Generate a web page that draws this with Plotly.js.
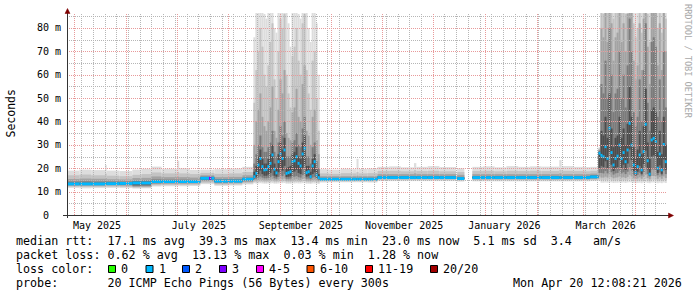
<!DOCTYPE html>
<html><head><meta charset="utf-8">
<script src="https://cdn.plot.ly/plotly-3.0.1.min.js"></script>
<style>html,body{margin:0;padding:0;background:#fff;}#chart{width:697px;height:297px;}</style>
</head><body><div id="chart"></div>
<script>
// ---------------- DATA ----------------
// time bins: start (days since 2025-04-26 00:00 UTC) and duration (days)
const start = [
  0.7, 8, 15, 23.3, 24.3, 32, 39.6, 45, 50.9, 57, 66.4, 67.6, 74, 80.2, 85.4, 86.8, 88.6, 97, 105.3,
  111.9,113.1,114.3,115.5,116.7,117.9,119.1,120.3,121.5,122.7,123.9,125.1,126.3,127.5,128.7,129.9,131.1,132.3,133.5,134.7,135.9,137.1,138.3,139.5,140.7,141.9,143.1,144.3,145.5,146.7,147.9,149.1,150.3,
  151.5,157,164,171,173.5,174.7,180,186,193,200,207.8,209.2,216,223,233.6,242.7,249,256,263,270,277,284,294.6,296,303,310,313,
  318,319.2,320.4,321.6,322.8,324,325.2,326.4,327.6,328.8,330,331.2,332.4,333.6,334.8,336,337.2,338.4,339.6,340.8,342,343.2,344.4,345.6,346.8,348,349.2,350.4,351.6,352.8,354,355.2,356.4,357.6
];
const dur = [
  7.3, 7, 8.3, 1, 7.7, 7.6, 5.4, 5.9, 6.1, 9.4, 1.2, 6.4, 6.2, 5.2, 1.4, 1.8, 8.4, 8.3, 6.6,
  1.2,1.2,1.2,1.2,1.2,1.2,1.2,1.2,1.2,1.2,1.2,1.2,1.2,1.2,1.2,1.2,1.2,1.2,1.2,1.2,1.2,1.2,1.2,1.2,1.2,1.2,1.2,1.2,1.2,1.2,1.2,1.2,1.2,
  5.5,7,7,2.5,1.2,5.3,6,7,7,7.8,1.4,6.8,7,10,4.3,6.3,7,7,7,7,7,10.6,1.4,7,7,3,5,
  1.2,1.2,1.2,1.2,1.2,1.2,1.2,1.2,1.2,1.2,1.2,1.2,1.2,1.2,1.2,1.2,1.2,1.2,1.2,1.2,1.2,1.2,1.2,1.2,1.2,1.2,1.2,1.2,1.2,1.2,1.2,1.2,1.2,1.2
];
// median rtt (ms)
const med = [
  13.3,13.3,13.3,13.4,13.4,13.5,13.7,13.7,14.3,14.3,14.3,14.3,14.3,15.7,15.7,15.7,14.5,14.5,15.3,
  16.4,17.8,21.4,24.2,20.7,19.3,19.5,20.7,22.1,25.7,19.6,18.0,22.8,26.1,24.2,27.8,17.8,18.1,18.5,22.8,23.2,24.9,22.1,21.0,26.1,28.5,18.1,18.5,16.4,21.0,22.8,17.1,16.0,
  15.3,15.3,15.3,15.3,15.3,15.3,15.3,16.0,16.0,16.0,16.0,16.0,16.0,16.0,15.6,16.0,16.0,16.0,16.0,16.0,16.0,16.0,16.0,16.0,16.0,16.0,16.3,
  26.4,25.5,24.9,29.2,24.2,37.1,26.7,21.4,24.2,25.2,29.9,24.2,26.7,22.8,27.8,39.2,29.9,21.4,18.1,20.7,25.7,19.3,27.1,38.8,23.2,17.5,32.1,32.8,31.4,20.0,26.1,19.3,30.2,22.8
];
// loss class index per bin (into lossLabels)
const loss = [
  1,1,1,1,1,1,1,1,1,1,1,1,1,1,3,1,1,1,1,
  1,1,1,1,1,1,1,1,1,1,1,1,1,1,1,1,1,1,1,1,1,1,1,1,1,1,1,1,1,1,1,1,1,
  1,1,1,1,1,1,1,1,1,1,1,1,1,1,1,1,1,1,1,1,1,1,1,1,1,1,1,
  1,1,1,1,1,1,1,1,1,1,1,1,1,1,1,1,1,1,1,1,1,1,1,1,1,1,1,1,1,1,1,1,1,1
];
// smoke bands (ms): outer (1) to inner (5)
const b1lo = [
  11.6,11.4,11.5,11.6,11.6,11.5,11.3,11.4,12.2,12.3,12.4,12.3,12.4,13.2,13.2,13.2,12.5,12.6,13.1,
  13.6,13.4,13.5,13.6,13.5,13.4,13.4,13.5,13.5,13.6,13.4,13.4,13.5,13.6,13.6,13.7,13.4,13.4,13.4,13.5,13.5,13.6,13.5,13.5,13.6,13.7,13.4,13.4,13.3,13.5,13.5,13.4,13.3,
  13.9,14.0,14.0,14.0,14.0,14.0,13.9,14.5,14.5,14.5,14.5,14.5,14.5,14.5,14.3,14.4,14.4,14.4,14.4,14.4,14.4,14.4,14.4,14.4,14.4,14.4,14.5,
  14.5,13.8,13.8,13.9,13.8,14.0,13.9,13.7,13.8,13.8,13.9,13.8,13.9,13.7,13.9,14.0,13.9,13.7,13.6,13.7,13.8,13.6,13.9,14.0,13.7,13.6,13.9,13.9,13.9,13.6,13.8,13.6,13.9,13.7
];
const b1hi = [
  19.0,19.4,19.2,21.4,19.0,18.8,19.4,19.8,20.7,19.8,23.2,20.0,19.3,19.4,19.4,19.4,19.6,19.9,20.6,
  76,88,88,88,88,86,84,88,88,88,80,78,88,88,88,88,88,82,72,88,88,88,86,84,88,88,88,80,74,88,88,82,60,
  19.6,19.4,19.8,19.6,24.0,19.7,19.9,20.6,20.8,20.4,22.2,20.6,20.9,20.5,20.0,20.6,20.8,20.4,20.9,20.6,20.8,20.7,23.5,20.9,20.6,20.5,20.6,
  29,88,88,88,88,88,88,88,88,88,88,88,88,88,88,88,88,88,88,88,88,88,88,88,88,88,88,88,88,88,88,88,88,88
];
const b2lo = [
  12.1,12.0,12.0,12.1,12.1,12.0,11.7,11.8,12.7,12.8,12.9,12.8,12.9,13.8,13.8,13.8,13.0,13.1,13.6,
  14.2,14.0,14.2,14.3,14.2,14.0,14.0,14.1,14.2,14.4,14.0,14.0,14.2,14.4,14.3,14.5,14.0,14.0,14.0,14.2,14.2,14.3,14.2,14.1,14.4,14.5,14.0,14.0,13.9,14.1,14.2,14.0,13.9,
  14.4,14.4,14.4,14.4,14.4,14.4,14.4,15.0,15.0,15.0,15.0,15.0,15.0,15.0,14.8,14.9,14.9,14.9,14.9,14.9,14.9,14.9,14.9,14.9,14.9,14.9,15.0,
  15.2,14.8,14.8,15.0,14.8,15.2,14.9,14.6,14.8,14.8,15.0,14.8,14.9,14.7,15.0,15.3,15.0,14.6,14.4,14.6,14.9,14.5,14.9,15.3,14.7,14.4,15.1,15.1,15.0,14.5,14.9,14.5,15.0,14.7
];
const b2hi = [
  17.0,17.3,17.0,17.8,16.8,16.6,17.2,17.5,18.2,17.8,18.4,17.8,17.5,18.0,18.0,18.0,17.6,17.8,18.4,
  48,62,70,80,72,60,55,64,74,82,58,50,70,84,80,86,60,52,46,68,72,80,66,60,82,86,62,52,45,66,70,50,36,
  17.8,17.6,17.9,17.8,18.4,17.8,17.9,18.8,18.9,18.7,19.2,18.8,18.9,18.7,18.4,18.8,18.9,18.7,18.9,18.8,18.9,18.8,19.4,18.9,18.8,18.7,18.9,
  28.5,88,86,88,88,88,88,84,88,88,88,88,88,86,88,88,88,82,76,80,88,78,88,88,86,74,88,88,88,80,88,78,88,84
];
const b3lo = [
  12.5,12.5,12.5,12.6,12.6,12.5,12.0,12.1,13.2,13.3,13.3,13.3,13.4,14.4,14.4,14.4,13.5,13.6,14.1,
  14.8,14.8,15.0,15.2,15.0,14.8,14.8,14.9,15.0,15.3,14.8,14.7,15.1,15.4,15.2,15.6,14.7,14.7,14.7,15.1,15.1,15.3,15.0,14.9,15.4,15.6,14.7,14.7,14.6,14.9,15.1,14.6,14.5,
  14.8,14.8,14.8,14.8,14.8,14.8,14.8,15.4,15.4,15.4,15.4,15.4,15.4,15.4,15.1,15.3,15.3,15.3,15.3,15.3,15.3,15.3,15.3,15.3,15.3,15.3,15.4,
  16.5,16.0,16.0,16.4,16.0,17.0,16.2,15.7,16.0,16.1,16.5,16.0,16.2,15.8,16.3,17.2,16.5,15.7,15.4,15.6,16.1,15.5,16.3,17.2,15.8,15.3,16.7,16.7,16.6,15.5,16.2,15.5,16.5,15.8
];
const b3hi = [
  15.4,15.6,15.5,15.8,15.3,15.2,15.8,15.9,16.5,16.2,16.4,16.2,16.0,17.0,17.0,17.0,16.2,16.3,17.0,
  30,40,45,52,42,38,36,40,46,55,36,33,45,58,52,62,35,33,32,44,46,54,42,40,56,64,36,34,30,42,45,32,26,
  16.6,16.6,16.6,16.6,16.8,16.6,16.6,17.5,17.5,17.5,17.8,17.5,17.5,17.5,17.2,17.5,17.5,17.5,17.5,17.5,17.5,17.5,17.8,17.5,17.5,17.5,17.7,
  28,80,76,88,74,88,82,66,76,78,88,74,82,70,86,88,88,66,58,64,82,62,84,88,72,56,88,88,88,64,82,62,88,70
];
const b4lo = [
  12.8,12.8,12.8,12.9,12.9,12.9,12.4,12.5,13.6,13.7,13.7,13.7,13.8,14.9,14.9,14.9,13.9,14.0,14.6,
  15.3,15.5,16.0,16.5,16.0,15.7,15.7,15.9,16.2,16.8,15.7,15.5,16.3,17.0,16.6,17.5,15.5,15.5,15.6,16.3,16.4,16.7,16.2,16.0,17.0,17.6,15.5,15.6,15.3,16.0,16.3,15.4,15.1,
  15.0,15.0,15.0,15.0,15.0,15.0,15.0,15.7,15.7,15.7,15.7,15.7,15.7,15.7,15.3,15.6,15.6,15.6,15.6,15.6,15.6,15.6,15.6,15.6,15.6,15.6,15.8,
  18.0,18.0,17.8,18.8,17.8,20.0,18.3,17.3,17.8,18.0,19.0,17.8,18.3,17.5,18.5,20.5,19.0,17.3,16.6,17.2,18.1,16.9,18.4,20.5,17.5,16.5,19.5,19.5,19.2,17.0,18.2,16.9,19.0,17.5
];
const b4hi = [
  14.3,14.4,14.3,14.4,14.3,14.3,14.6,14.7,15.2,15.1,15.1,15.1,15.0,16.4,16.4,16.4,15.3,15.3,16.0,
  22,26,30,34,29,27,27,29,31,36,27,25,31,38,34,40,25,25,25,31,32,35,30,29,37,42,25,25,22,29,31,23,20,
  15.9,15.9,15.9,15.9,15.9,15.9,15.9,16.7,16.7,16.7,16.7,16.7,16.7,16.7,16.3,16.7,16.7,16.7,16.7,16.7,16.7,16.7,16.7,16.7,16.7,16.7,17.0,
  27.5,56,52,66,50,80,60,44,52,54,70,50,60,46,64,84,70,44,38,42,58,40,62,82,48,36,74,76,72,42,58,40,70,46
];
const b5lo = [
  13.0,13.0,13.0,13.1,13.1,13.1,13.0,13.1,13.9,14.0,14.0,14.0,14.0,15.3,15.3,15.3,14.2,14.2,15.0,
  15.8,16.3,17.5,19.0,17.5,16.8,16.8,17.3,18.0,19.5,16.8,16.4,18.3,20.0,19.0,21.0,16.3,16.4,16.6,18.3,18.6,19.3,18.0,17.5,20.0,21.5,16.4,16.6,15.9,17.5,18.3,16.1,15.6,
  15.1,15.1,15.1,15.1,15.1,15.1,15.1,15.8,15.8,15.8,15.8,15.8,15.8,15.8,15.4,15.8,15.8,15.8,15.8,15.8,15.8,15.8,15.8,15.8,15.8,15.8,16.0,
  20.0,21.0,20.5,23.0,20.0,27.0,21.5,18.8,20.0,20.5,23.5,20.0,21.5,19.3,22.0,28.0,23.5,18.8,17.0,18.5,21.0,17.6,21.8,27.5,19.5,16.8,25.0,25.5,24.5,18.0,21.2,17.6,23.8,19.3
];
const b5hi = [
  13.7,13.7,13.7,13.8,13.8,13.9,14.2,14.2,14.7,14.7,14.7,14.7,14.7,16.1,16.1,16.1,14.9,14.9,15.6,
  18.5,21,25,28,24,22,22,24,26,30,22,20,26,31,28,33,20,20.5,21,26,27,29,25,24,31,34,21,21,18.5,24,26,19.5,17.5,
  15.6,15.6,15.6,15.6,15.6,15.6,15.6,16.3,16.3,16.3,16.3,16.3,16.3,16.3,15.9,16.3,16.3,16.3,16.3,16.3,16.3,16.3,16.3,16.3,16.3,16.3,16.7,
  27,36,34,42,33,52,37,29,33,34,42,33,37,30,39,55,42,29,25,28,36,26,38,54,31,24,45,46,44,27,36,26,42,30
];
// axis tick labels
const yTickVals = [0,10,20,30,40,50,60,70,80];
const yTickText = ['0\u00a0\u00a0','10 m','20 m','30 m','40 m','50 m','60 m','70 m','80 m'];
const xTickDates = ['2025-05-14 12:00','2025-07-14 08:00','2025-09-13 06:00','2025-11-13 22:00','2026-01-12 20:00','2026-03-14 08:00'];
const xTickText = ['May 2025','July 2025','September 2025','November 2025','January 2026','March 2026'];
// legend / summary texts
const lossLabels = ['0','1','2','3','4-5','6-10','11-19','20/20'];
const lossColors = ['#26ff00','#00b8ff','#0059ff','#7e00ff','#ff00ff','#ff5500','#ff0000','#a10000'];
const line1 = 'median rtt:  17.1 ms avg  39.3 ms max  13.4 ms min  23.0 ms now  5.1 ms sd  3.4   am/s';
const line2 = 'packet loss: 0.62 % avg  13.13 % max  0.03 % min  1.28 % now';
const line3 = 'loss color:';
const line4 = 'probe:       20 ICMP Echo Pings (56 Bytes) every 300s';
const stamp = 'Mon Apr 20 12:08:21 2026';
const yTitle = 'Seconds';
const watermark = 'RRDTOOL / TOBI OETIKER';

// ---------------- LAYOUT CONSTANTS ----------------
const W = 697, H = 297, L = 67, R = 30, T = 13, B = 82;
const PW = W - L - R, PH = H - T - B;
const DAY = 86400000, T0 = Date.UTC(2025, 3, 26);
const xMin = T0 + 0.583 * DAY, xMax = T0 + 358.93 * DAY;
const yMax = 86.4;
const MONO = 'DejaVu Sans Mono';
const bandColors = ['#dddddd', '#c3c3c3', '#a3a3a3', '#7b7b7b', '#4d4d4d'];
const MED_HALF = 0.62;
const px = x => (x - L) / PW;       // page px -> paper x
const py = y => (T + PH - y) / PH;  // page py -> paper y
const snapT = t => { const p = (t - xMin) / (xMax - xMin) * PW; return xMin + (Math.round(p) + 0.5) / PW * (xMax - xMin); };
const snapV = v => { const p = v / yMax * PH; return (Math.round(p) - 0.5) / PH * yMax; };

// ---------------- TRACES ----------------
const xs = start.map((s, i) => T0 + (s + dur[i] / 2) * DAY);
const ws = dur.map(d => d * DAY);
const los = [b1lo, b2lo, b3lo, b4lo, b5lo], his = [b1hi, b2hi, b3hi, b4hi, b5hi];
const traces = los.map((lo, k) => ({
  type: 'bar', x: xs, width: ws, base: lo, y: his[k].map((h, i) => h - lo[i]),
  marker: { color: bandColors[k], line: { width: 0 } }, opacity: 1, hoverinfo: 'skip', showlegend: false
}));
traces.push({
  type: 'bar', x: xs, width: ws, base: med.map(m => m - MED_HALF), y: med.map(() => 2 * MED_HALF),
  marker: { color: loss.map(l => lossColors[l]), line: { width: 0 } }, opacity: 1, hoverinfo: 'skip', showlegend: false
});

// ---------------- GRID (drawn above data like rrdtool) ----------------
const shapes = [];
const gMinor = '#b6b6b6', gMajor = '#e89a9a', dots = '1px,1px';
for (let t = Date.UTC(2025, 4, 5); t < xMax; t += 7 * DAY) {
  const ts = snapT(t);
  shapes.push({ type: 'line', xref: 'x', yref: 'paper', x0: ts, x1: ts, y0: 0, y1: 1, layer: 'above', line: { color: gMinor, width: 1, dash: dots } });
}
for (let v = 5; v < yMax; v += 10) {
  const vs = snapV(v);
  shapes.push({ type: 'line', xref: 'paper', yref: 'y', x0: 0, x1: 1, y0: vs, y1: vs, layer: 'above', line: { color: gMinor, width: 1, dash: dots } });
}
for (let m = 4; m <= 15; m++) {
  const ts = snapT(Date.UTC(2025, m, 1));
  shapes.push({ type: 'line', xref: 'x', yref: 'paper', x0: ts, x1: ts, y0: 0, y1: 1, layer: 'above', line: { color: gMajor, width: 1, dash: dots } });
}
for (let v = 10; v < yMax; v += 10) {
  const vs = snapV(v);
  shapes.push({ type: 'line', xref: 'paper', yref: 'y', x0: 0, x1: 1, y0: vs, y1: vs, layer: 'above', line: { color: gMajor, width: 1, dash: dots } });
}
// axes + arrows
const axisCol = '#333333', arrowCol = '#7f0000';
shapes.push({ type: 'line', xref: 'paper', yref: 'paper', x0: px(67.5), x1: px(67.5), y0: py(218), y1: py(13), layer: 'above', line: { color: axisCol, width: 1 } });
shapes.push({ type: 'line', xref: 'paper', yref: 'paper', x0: px(63), x1: px(669), y0: py(215.5), y1: py(215.5), layer: 'above', line: { color: axisCol, width: 1 } });
shapes.push({ type: 'path', xref: 'paper', yref: 'paper', layer: 'above', fillcolor: arrowCol, line: { color: arrowCol, width: 0.5 },
  path: `M${px(65)},${py(13.5)} L${px(70)},${py(13.5)} L${px(67.5)},${py(8.5)} Z` });
shapes.push({ type: 'path', xref: 'paper', yref: 'paper', layer: 'above', fillcolor: arrowCol, line: { color: arrowCol, width: 0.5 },
  path: `M${px(668.5)},${py(213)} L${px(668.5)},${py(218)} L${px(673.5)},${py(215.5)} Z` });

// ---------------- ANNOTATIONS ----------------
const nb = s => s.replace(/ /g, '\u00a0');
const ann = [];
const txt = (s, x, y, size, extra) => ann.push(Object.assign({ text: nb(s), xref: 'paper', yref: 'paper', x: px(x), y: py(y),
  xanchor: 'left', yanchor: 'middle', showarrow: false, borderpad: 0, borderwidth: 0,
  font: { family: MONO, size: size, color: '#000' } }, extra || {}));
const LF = 11.7, x0 = 15.5;
txt(line1, x0, 241, LF);
txt(line2, x0, 255, LF);
txt(line3, x0, 269, LF);
txt(line4, x0, 283, LF);
txt(stamp, 512.5, 283, LF);
const legX = [108, 145.5, 182, 219, 256, 306.5, 365, 430];
lossLabels.forEach((lab, i) => {
  shapes.push({ type: 'rect', xref: 'paper', yref: 'paper', x0: px(legX[i] + 0.5), x1: px(legX[i] + 7.5), y0: py(272.5), y1: py(265.5),
    fillcolor: lossColors[i], line: { color: '#000', width: 1 }, layer: 'above' });
  txt(lab, legX[i] + 13, 269, LF);
});
ann.push({ text: yTitle, xref: 'paper', yref: 'paper', x: px(10.5), y: py(114), xanchor: 'center', yanchor: 'middle', textangle: -90,
  showarrow: false, borderpad: 0, font: { family: MONO, size: 11.5, color: '#000' } });
ann.push({ text: nb(watermark), xref: 'paper', yref: 'paper', x: px(688), y: py(61), xanchor: 'center', yanchor: 'middle', textangle: 90,
  showarrow: false, borderpad: 0, font: { family: MONO, size: 8.6, color: '#a8a8a8' } });

const layout = {
  width: W, height: H, margin: { l: L, r: R, t: T, b: B, pad: 0 },
  paper_bgcolor: '#fff', plot_bgcolor: '#fff', barmode: 'overlay', showlegend: false,
  xaxis: { type: 'date', range: [xMin, xMax], showgrid: false, zeroline: false, showline: false, fixedrange: true,
    tickmode: 'array', tickvals: xTickDates, ticktext: xTickText, ticks: '', ticklabelstandoff: 3,
    tickfont: { family: MONO, size: 10, color: '#000' } },
  yaxis: { range: [0, yMax], showgrid: false, zeroline: false, showline: false, fixedrange: true,
    tickmode: 'array', tickvals: yTickVals, ticktext: yTickText, ticks: '', ticklabelstandoff: 5,
    tickfont: { family: MONO, size: 10, color: '#000' } },
  shapes: shapes, annotations: ann
};
Plotly.newPlot('chart', traces, layout, { staticPlot: true, displayModeBar: false });
</script></body></html>
